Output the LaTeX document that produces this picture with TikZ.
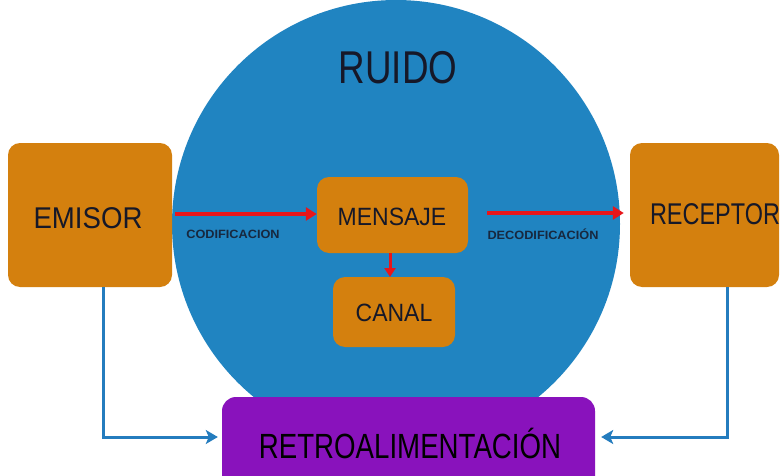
\documentclass[tikz,border=0pt]{standalone}
\usepackage{fontspec}
\setmainfont{Liberation Sans}
\usetikzlibrary{arrows.meta}
\definecolor{caja}{RGB}{212,128,14}
\definecolor{ruido}{RGB}{32,132,193}
\definecolor{retro}{RGB}{137,18,188}
\definecolor{flecha}{RGB}{232,22,26}
\definecolor{linea}{RGB}{36,124,190}
\definecolor{tinta}{RGB}{22,24,40}
\begin{document}
\begin{tikzpicture}[x=1pt, y=-1pt,
  box/.style = {fill=caja, rounded corners=12pt, inner sep=0pt},
  big/.style = {font=\fontsize{30}{36}\selectfont, text=tinta, xscale=0.92},
  mid/.style = {font=\fontsize{25}{30}\selectfont, text=tinta, xscale=0.92},
  small/.style = {font=\fontsize{12}{14}\selectfont\bfseries, text=tinta!85!ruido, xscale=1.06},
  red/.style = {draw=flecha, line width=4pt, -{Triangle[length=11pt, width=13pt]}},
  back/.style = {draw=linea, line width=3pt, -{Stealth[length=12pt, width=14pt, inset=3pt]}}]
\clip (0,0) rectangle (784,476);
\fill[white] (0,0) rectangle (784,476);

\node[circle, fill=ruido, minimum size=448pt, inner sep=0pt] (R) at (396,224) {};
\node[font=\fontsize{46}{54}\selectfont, text=tinta, xscale=0.8] (RT) at (398,68) {RUIDO};

\node[box, minimum width=164pt, minimum height=144pt] (E) at (90,215) {};
\node[big] (ET) at (88,218) {EMISOR};
\node[box, minimum width=149pt, minimum height=144pt] (C) at (704.5,215) {};
\node[big, xscale=0.85] (CT) at (715,214) {RECEPTOR};

\node[box, minimum width=151pt, minimum height=76pt] (M) at (392.5,215) {};
\node[mid] (MT) at (392,217) {MENSAJE};
\node[box, minimum width=122pt, minimum height=70pt] (K) at (394,312) {};
\node[mid] (KT) at (394,313) {CANAL};

\node[fill=retro, rounded corners=14pt, minimum width=373pt, minimum height=94pt] (F) at (408.5,444) {};
\node[font=\fontsize{35}{42}\selectfont, text=black, xscale=0.79] (FT) at (410,443) {RETROALIMENTACIÓN};

% codificacion / decodificacion
\draw[red, shorten <=3pt] (E.east |- 0,214) -- (M.west |- 0,214);
\node[small] (cod) at (233,234) {CODIFICACION};
\draw[red, shorten <=19pt, shorten >=6pt] (M.east |- 0,213) -- (C.west |- 0,213);
\node[small] (dec) at (543,234) {DECODIFICACIÓN};
\draw[red, line width=3pt, -{Triangle[length=9pt, width=11pt]}] (390,253) -- (390,277);

% retroalimentacion
\coordinate (e1) at (103,437);
\coordinate (c1) at (727,437);
\draw[back, shorten >=4pt] (E.south -| e1) -- (e1) -- (F.west |- e1);
\draw[back, shorten >=6pt] (C.south -| c1) -- (c1) -- (F.east |- c1);
\end{tikzpicture}
\end{document}
